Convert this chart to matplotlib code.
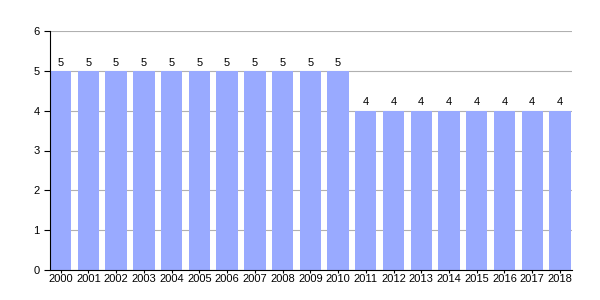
import matplotlib.pyplot as plt

years = [str(y) for y in range(2000, 2019)]
values = [5, 5, 5, 5, 5, 5, 5, 5, 5, 5, 5, 4, 4, 4, 4, 4, 4, 4, 4]

plt.rcParams['font.family'] = ['Liberation Sans', 'DejaVu Sans']

fig = plt.figure(figsize=(6, 3), dpi=100)
ax = fig.add_axes([50 / 600, 30 / 300, 522 / 600, 239 / 300])

w = 0.77
x = list(range(len(years)))
ax.bar(x, values, width=w, color='#99aaff', zorder=2)
for xi, v in zip(x, values):
    ax.text(xi, v + 0.08, str(v), ha='center', va='bottom', fontsize=8)

ax.set_xlim(-w / 2, len(years) - 1 + w / 2 + 0.05)
ax.set_ylim(0, 6)
ax.set_yticks(range(0, 7))
ax.set_xticks(x)
ax.set_xticklabels(years, fontsize=8)
ax.tick_params(axis='y', labelsize=8, length=4, width=0.8)
ax.tick_params(axis='x', length=2, width=0.8, pad=1)
ax.grid(axis='y', color='#b0b0b0', linewidth=0.8, zorder=1)
ax.spines['top'].set_visible(False)
ax.spines['right'].set_visible(False)

fig.savefig('out.png', dpi=100)
